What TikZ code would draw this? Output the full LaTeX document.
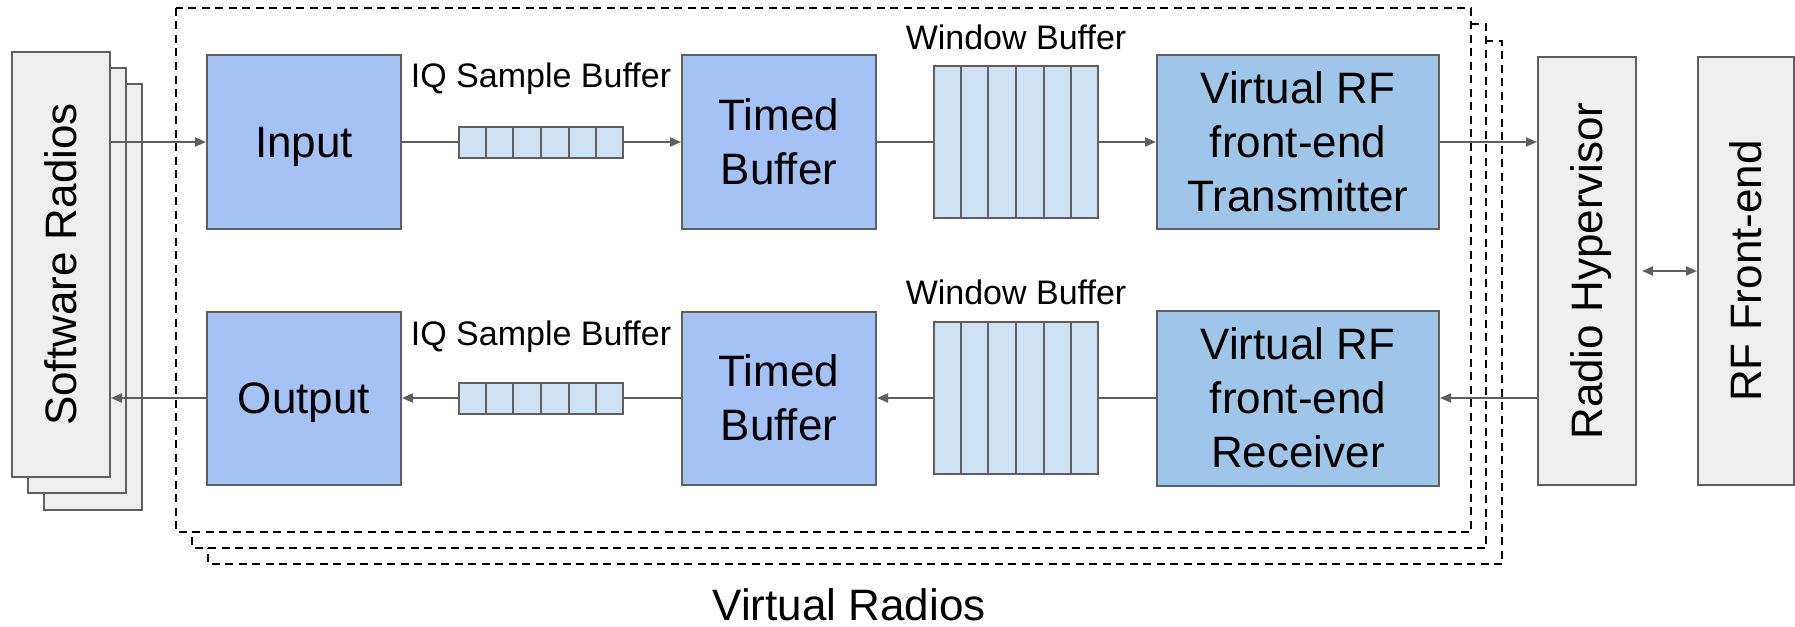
\documentclass[tikz,border=0pt]{standalone}
\usepackage{fontspec}
\setmainfont{Liberation Sans}
\usetikzlibrary{arrows.meta,calc}
\definecolor{boxblue}{HTML}{A4C2F4}
\definecolor{rfblue}{HTML}{9FC5E8}
\definecolor{cellblue}{HTML}{CFE2F3}
\definecolor{boxgray}{HTML}{EFEFEF}
\definecolor{edgegray}{HTML}{5F5F5F}
\newcommand{\sidetext}[1]{\rotatebox{90}{\raisebox{0pt}[\height][0pt]{#1}}}

\begin{document}
\begin{tikzpicture}[x=1pt,y=-1pt,
  every node/.style={inner sep=0pt},
  blk/.style={draw=edgegray, line width=2pt, fill=boxblue, minimum width=194pt, minimum height=174pt,
    align=center, text depth=0pt, font=\fontsize{44}{54}\selectfont},
  rfblk/.style={blk, fill=rfblue, minimum width=282pt},
  sideblk/.style={draw=edgegray, line width=2pt, fill=boxgray, minimum width=98pt, font=\fontsize{44}{54}\selectfont},
  bufcells/.style={draw=edgegray, line width=2pt, fill=cellblue, minimum width=164pt},
  lbl/.style={anchor=base, font=\fontsize{34}{40}\selectfont},
  wire/.style={draw=edgegray, line width=2pt},
  arr/.style={wire, -{Triangle[length=11pt,width=9pt]}},
  vrbox/.style={draw=black, line width=1.8pt, dash pattern=on 8pt off 5.5pt, fill=white}]
\useasboundingbox (0,0) rectangle (1795,626);

% virtual radios, back to front
\draw[vrbox] (208,41) rectangle (1502,564);
\draw[vrbox] (192,24) rectangle (1486,548);
\draw[vrbox] (176,8) rectangle (1471,532);
\node[anchor=base, text depth=0pt, font=\fontsize{44}{54}\selectfont] (vr) at (849,620) {Virtual Radios};

% software radios
\node[sideblk, minimum height=426pt] (sr3) at (93,297) {};
\node[sideblk, minimum height=425pt] (sr2) at (77,280.5) {};
\node[sideblk, minimum height=425pt] (sr1) at (61,264.5) {\sidetext{Software Radios}};

% hypervisor and front-end
\node[sideblk, minimum height=428pt] (rh) at (1587,271) {\sidetext{Radio Hypervisor}};
\node[sideblk, minimum width=96pt, minimum height=428pt] (rf) at (1746,271) {\sidetext{RF Front-end}};

% transmit path
\node[blk] (input) at (304,142) {Input};
\node[bufcells, minimum height=31pt] (iqA) at (541,142) {};
\node[blk] (timedA) at (779,142) {Timed\\Buffer};
\node[bufcells, minimum height=152pt] (winA) at (1016,142) {};
\node[rfblk] (vrfTx) at (1298,142) {Virtual RF\\front-end\\Transmitter};
\node[lbl] (iqAlbl) at (541,88) {IQ Sample Buffer};
\node[lbl] (winAlbl) at (1016,50) {Window Buffer};

% receive path
\node[blk, minimum height=173pt] (output) at (304,398) {Output};
\node[bufcells, minimum height=31pt] (iqB) at (541,398) {};
\node[blk, minimum height=173pt] (timedB) at (779,398) {Timed\\Buffer};
\node[bufcells, minimum height=152pt] (winB) at (1016,398) {};
\node[rfblk, minimum height=175pt] (vrfRx) at (1298,398) {Virtual RF\\front-end\\Receiver};
\node[lbl] (iqBlbl) at (541,345) {IQ Sample Buffer};
\node[lbl] (winBlbl) at (1016,304) {Window Buffer};

\foreach \b in {iqA,iqB,winA,winB}
  \foreach \i in {1,...,5}
    \draw[wire] ($(\b.south west)!\i/6!(\b.south east)$) -- ($(\b.north west)!\i/6!(\b.north east)$);

\draw[arr] (sr1.east |- input.west) -- (input.west);
\draw[wire] (input.east) -- (iqA.west);
\draw[arr] (iqA.east) -- (timedA.west);
\draw[wire] (timedA.east) -- (winA.west);
\draw[arr] (winA.east) -- (vrfTx.west);
\draw[arr] (vrfTx.east) -- (vrfTx.east -| rh.west);
\draw[arr] (rh.west |- vrfRx.east) -- (vrfRx.east);
\draw[wire] (vrfRx.west) -- (winB.east);
\draw[arr] (winB.west) -- (timedB.east);
\draw[wire] (timedB.west) -- (iqB.east);
\draw[arr] (iqB.west) -- (output.east);
\draw[arr] (output.west) -- (output.west -| sr1.east);
\draw[wire, {Triangle[length=11pt,width=9pt]}-{Triangle[length=11pt,width=9pt]}, shorten <=5pt] (rh.east) -- (rf.west);
\end{tikzpicture}
\end{document}
